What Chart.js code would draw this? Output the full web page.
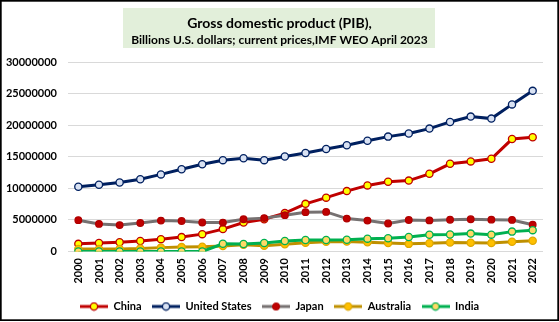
<!DOCTYPE html>
<html>
<head>
<meta charset="utf-8">
<script src="https://cdn.jsdelivr.net/npm/chart.js@4.4.0/dist/chart.umd.min.js"></script>
<style>
  html, body { margin: 0; padding: 0; background: #fff; }
  #wrap { width: 559px; height: 322px; }
</style>
</head>
<body>
<div id="wrap"><canvas id="c" width="559" height="322"></canvas></div>
<script>
// GDP, current prices
const years = ['2000','2001','2002','2003','2004','2005','2006','2007','2008','2009','2010','2011',
               '2012','2013','2014','2015','2016','2017','2018','2019','2020','2021','2022'];

const china = [1211300, 1339400, 1470600, 1660300, 1955300, 2286000, 2752100, 3550300, 4594300, 5101700,
               6087200, 7551500, 8532200, 9570500, 10475600, 11061600, 11233300, 12310400, 13894900,
               14280000, 14687700, 17820500, 18100000];
const unitedStates = [10251000, 10581900, 10929100, 11456500, 12217200, 13039200, 13815600, 14474300,
               14769900, 14478100, 15049000, 15599700, 16254000, 16843200, 17550700, 18206000, 18695100,
               19477300, 20533100, 21381000, 21060500, 23315100, 25462700];
const japan = [4968400, 4374700, 4182800, 4519600, 4893100, 4831500, 4601700, 4579800, 5106700, 5289500,
               5759100, 6233100, 6272400, 5212300, 4897000, 4444900, 5003700, 4930800, 5040900, 5118000,
               5048800, 5005500, 4231100];
const australia = [415000, 379000, 395000, 467000, 614000, 694000, 747000, 853000, 1055000, 928000,
               1148000, 1398000, 1547000, 1577000, 1468000, 1351000, 1209000, 1326000, 1428000, 1393000,
               1329000, 1553000, 1702000];
const india = [0, 0, 0, 0, 0, 0, 0, 1216700, 1199000, 1341900, 1675600, 1823100, 1827600, 1856700,
               2039100, 2103600, 2294800, 2651500, 2702900, 2835600, 2671600, 3150300, 3385100];

const yTicks = [0, 5000000, 10000000, 15000000, 20000000, 25000000, 30000000];

const titleText = 'Gross domestic product (PIB),';
const subtitleText = 'Billions U.S. dollars; current prices,IMF WEO April 2023';

const FONT = 'Lato, "Open Sans", sans-serif';

const seriesStyle = [
  { label: 'China',         data: china,        line: '#C00000', fill: '#FFFF00', edge: '#C00000', r: 3.6 },
  { label: 'United States', data: unitedStates, line: '#002060', fill: '#D9E2F3', edge: '#002060', r: 3.6 },
  { label: 'Japan',         data: japan,        line: '#767171', fill: '#C00000', edge: '#B00000', r: 3.3 },
  { label: 'Australia',     data: australia,    line: '#BF9000', fill: '#FFC000', edge: '#E0A800', r: 3.6 },
  { label: 'India',         data: india,        line: '#00B050', fill: '#FFD966', edge: '#00B050', r: 3.6 }
];

// legend swatch: short line with the marker in its middle
function legendIcon(s) {
  const cv = document.createElement('canvas');
  cv.width = 28; cv.height = 10;
  const g = cv.getContext('2d');
  g.strokeStyle = s.line; g.lineWidth = 3;
  g.beginPath(); g.moveTo(0, 5); g.lineTo(28, 5); g.stroke();
  g.beginPath(); g.arc(14, 5, s.r, 0, Math.PI * 2);
  g.fillStyle = s.fill; g.fill();
  g.lineWidth = 1.3; g.strokeStyle = s.edge; g.stroke();
  return cv;
}

const n = seriesStyle.length;
const datasets = seriesStyle.map((s, i) => ({
  label: s.label,
  data: s.data,
  yAxisID: 'y',
  borderColor: s.line,
  backgroundColor: s.fill,
  borderWidth: 3,
  pointRadius: s.r,
  pointHoverRadius: s.r,
  pointBackgroundColor: s.fill,
  pointBorderColor: s.edge,
  pointBorderWidth: 1.3,
  tension: 0,
  order: n - i,
  _icon: legendIcon(s)
}));

// frame and shaded title panel
const framePlugin = {
  id: 'frame',
  beforeDraw(chart) {
    const ctx = chart.ctx;
    ctx.save();
    ctx.fillStyle = '#ffffff';
    ctx.fillRect(0, 0, chart.width, chart.height);
    ctx.fillStyle = '#E2EFDA';
    ctx.fillRect(123, 8, 312, 40);
    ctx.restore();
  },
  afterDraw(chart) {
    const ctx = chart.ctx;
    ctx.save();
    ctx.strokeStyle = '#000000';
    ctx.lineWidth = 1.7;
    ctx.strokeRect(0.85, 0.85, chart.width - 1.7, chart.height - 2.7);
    ctx.restore();
  }
};

new Chart(document.getElementById('c'), {
  type: 'line',
  data: { labels: years, datasets },
  plugins: [framePlugin],
  options: {
    responsive: false,
    animation: false,
    devicePixelRatio: 1,
    layout: { padding: { top: 0, right: 0, bottom: 0, left: 0 } },
    plugins: {
      tooltip: { enabled: false },
      title: {
        display: true,
        text: titleText,
        color: '#000',
        font: { family: FONT, size: 14, weight: 'bold', lineHeight: 1.2 },
        padding: { top: 15, bottom: 0 }
      },
      subtitle: {
        display: true,
        text: subtitleText,
        color: '#000',
        font: { family: FONT, size: 12, weight: 'bold', lineHeight: 1.2 },
        padding: { top: 1, bottom: 15 }
      },
      legend: {
        position: 'bottom',
        labels: {
          usePointStyle: true,
          pointStyleWidth: 28,
          boxHeight: 10,
          padding: 10.5,
          color: '#000',
          font: { family: FONT, size: 11, weight: 'bold' },
          generateLabels(chart) {
            return chart.data.datasets.map((d, i) => ({
              text: d.label,
              pointStyle: d._icon,
              fillStyle: d.backgroundColor,
              strokeStyle: d.borderColor,
              lineWidth: 0,
              hidden: false,
              datasetIndex: i,
              fontColor: '#000'
            }));
          }
        }
      }
    },
    scales: {
      x: {
        offset: true,
        grid: { display: false, drawTicks: false },
        border: { display: false },
        ticks: {
          autoSkip: false,
          minRotation: 90,
          maxRotation: 90,
          padding: 6.5,
          color: '#000',
          font: { family: FONT, size: 11, weight: 'bold' }
        },
        afterFit(scale) { scale.height = 39; }
      },
      y: {
        min: 0,
        max: 30000000,
        afterBuildTicks(scale) { scale.ticks = yTicks.map(v => ({ value: v })); },
        grid: { color: '#D9D9D9', lineWidth: 1, drawTicks: false },
        border: { display: false },
        ticks: {
          padding: 11,
          color: '#000',
          font: { family: FONT, size: 11, weight: 'bold' },
          callback: v => String(v)
        },
        afterFit(scale) { scale.width = 68; }
      },
      // empty strip on the right of the plot
      yRight: {
        position: 'right',
        min: 0,
        max: 30000000,
        grid: { display: false, drawTicks: false },
        border: { display: false },
        ticks: { display: false },
        afterFit(scale) { scale.width = 16; }
      }
    }
  }
});
</script>
</body>
</html>
